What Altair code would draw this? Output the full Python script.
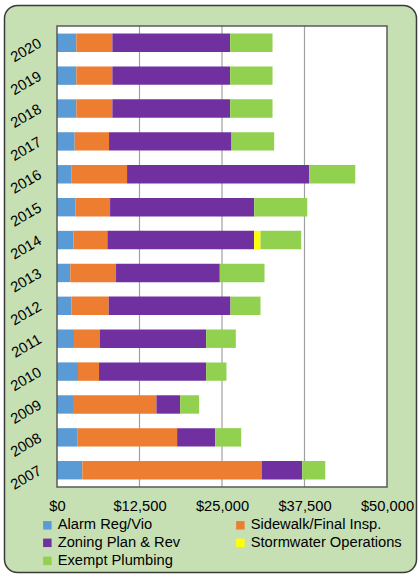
import altair as alt
import pandas as pd

years = [str(y) for y in range(2007, 2021)]
alarm = [3840, 3135, 2425, 3185, 2580, 2175, 2020, 2480, 2780, 2225, 2680, 2930, 2930, 2930]
sidewalk = [27200, 15065, 12640, 3185, 3890, 5660, 6925, 5155, 5260, 8390, 5205, 5460, 5460, 5460]
zoning = [6115, 5765, 3590, 16225, 16125, 18450, 15720, 22240, 21840, 27600, 18550, 17845, 17845, 17845]
storm = [0, 0, 0, 0, 0, 0, 0, 960, 0, 0, 0, 0, 0, 0]
plumbing = [3490, 3945, 2880, 3085, 4500, 4550, 6775, 6170, 8040, 6975, 6470, 6420, 6420, 6420]

categories = ["Alarm Reg/Vio", "Sidewalk/Final Insp.", "Zoning Plan & Rev",
              "Stormwater Operations", "Exempt Plumbing"]
colors = ["#5B9BD5", "#ED7D31", "#7030A0", "#FFFF00", "#92D050"]
# legend fills column by column: arrange so it reads row by row
legend_order = [0, 2, 4, 1, 3]
x_ticks = [0, 12500, 25000, 37500, 50000]
grid_vals = [12500, 25000, 37500]

series = [alarm, sidewalk, zoning, storm, plumbing]
rows = []
for ci, (cat, vals) in enumerate(zip(categories, series)):
    for y, v in zip(years, vals):
        rows.append({"year": y, "cat": cat, "value": v, "idx": ci})
df = pd.DataFrame(rows)

W, H = 330, 461
FONT = "Liberation Sans"
FS = 14.7
xscale = alt.Scale(domain=[0, 50000], nice=False, zero=True)
xaxis = alt.Axis(title=None, values=x_ticks, format="$,.0f", grid=False,
                 ticks=False, domain=False, labelFont=FONT, labelFontSize=FS,
                 labelColor="black", labelPadding=11, labelFlush=False,
                 labelOverlap=False, zindex=1)

one = pd.DataFrame({"k": [0]})

frame_bg = alt.Chart(one).mark_rect(
    fill="#C6E0B4", stroke="#3A3A3A", strokeWidth=1.5, cornerRadius=13
).encode(
    x=alt.value(-52.5), x2=alt.value(359.5), y=alt.value(-20.5), y2=alt.value(546.5)
)

plot_bg = alt.Chart(one).mark_rect(fill="white").encode(
    x=alt.value(0), x2=alt.value(W), y=alt.value(0), y2=alt.value(H)
)

grid = alt.Chart(pd.DataFrame({"value": grid_vals})).mark_rule(
    color="#A0A0A0", strokeWidth=1.2
).encode(
    x=alt.X("value:Q", scale=xscale, axis=xaxis)
)

bars = alt.Chart(df).mark_bar().encode(
    y=alt.Y("year:N", sort="descending",
            scale=alt.Scale(paddingInner=0.44, paddingOuter=0.23),
            axis=alt.Axis(title=None, ticks=False, domain=False, labelAngle=330,
                          labelAlign="right", labelBaseline="middle", labelPadding=17,
                          labelFont=FONT, labelFontSize=FS, labelColor="black", zindex=1)),
    x=alt.X("sum(value):Q", scale=xscale, stack="zero", axis=xaxis),
    color=alt.Color("cat:N",
                    scale=alt.Scale(domain=[categories[i] for i in legend_order],
                                    range=[colors[i] for i in legend_order]),
                    legend=alt.Legend(orient="none", legendX=-17, legendY=491.5, columns=2,
                                      columnPadding=52, rowPadding=2, title=None,
                                      symbolType="square", symbolSize=72,
                                      symbolStrokeWidth=0, labelFont=FONT,
                                      labelFontSize=FS, labelColor="black",
                                      labelOffset=3, padding=0)),
    order=alt.Order("idx:Q", sort="ascending"),
)

border = alt.Chart(one).mark_rect(filled=False, stroke="#595959", strokeWidth=1.5).encode(
    x=alt.value(0), x2=alt.value(W), y=alt.value(0), y2=alt.value(H)
)

chart = alt.layer(frame_bg, plot_bg, grid, bars, border).properties(
    width=W, height=H,
    padding={"left": 57, "top": 26, "right": 31, "bottom": 88},
    autosize=alt.AutoSizeParams(type="none"),
    background="white",
).configure_view(stroke=None)

chart.save("out.html", embed_options={"renderer": "svg", "actions": False})
